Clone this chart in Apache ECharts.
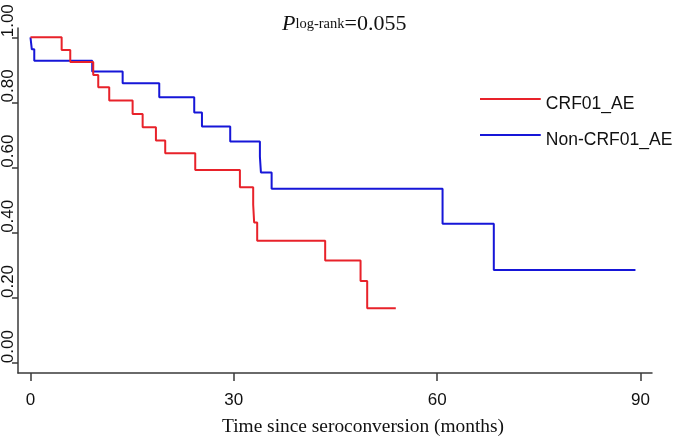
<!DOCTYPE html>
<html>
<head>
<meta charset="utf-8">
<script src="https://cdn.jsdelivr.net/npm/echarts@6/dist/echarts.min.js"></script>
<style>html,body{margin:0;padding:0;background:#fff}#c{width:675px;height:439px}</style>
</head>
<body>
<div id="c"></div>
<script>
// Kaplan-Meier estimates (time in months, survival proportion)
var seriesNames = ['CRF01_AE', 'Non-CRF01_AE'];
var redTimes = [0, 4.6, 5.87, 9.26, 10.0, 11.62, 15.07, 16.55, 18.51, 19.88, 24.31, 30.9, 32.86, 33.0, 33.45, 43.48, 48.7, 49.68, 53.9];
var redSurv  = [1.0, 0.961, 0.924, 0.884, 0.847, 0.806, 0.765, 0.724, 0.683, 0.644, 0.593, 0.540, 0.486, 0.432, 0.376, 0.315, 0.252, 0.169, 0.169];
var blueTimes = [0, 0.2, 0.56, 9.11, 13.6, 19.0, 24.16, 25.3, 29.47, 33.85, 34.0, 35.58, 60.8, 68.36, 89.26];
var blueSurv  = [1.0, 0.963, 0.928, 0.895, 0.859, 0.816, 0.769, 0.726, 0.680, 0.634, 0.585, 0.535, 0.428, 0.286, 0.286];
var xTicks = [0, 30, 60, 90];
var yTicks = [0, 0.2, 0.4, 0.6, 0.8, 1.0];
var pText = 'log-rank';
var pValue = '=0.055';
var xTitle = 'Time since seroconversion (months)';

function pairs(t, s) { return t.map(function (v, i) { return [v, s[i]]; }); }

var axisColor = '#3a3a3a';
var legendIcon = 'path://M0,0H61V2H0Z M0,12H0.05V12.05H0Z';
function legendFor(name, top) {
  return {
    data: [name], orient: 'vertical', left: 480, top: top, padding: 0,
    icon: legendIcon, itemWidth: 61, itemHeight: 12,
    textStyle: {fontFamily: 'Liberation Sans', fontSize: 17.5, color: '#111'}
  };
}
var chart = echarts.init(document.getElementById('c'), null, {renderer: 'canvas'});
chart.setOption({
  animation: false,
  backgroundColor: '#ffffff',
  title: [{
    text: '{p|P}{s|' + pText + '}{n|' + pValue + '}',
    left: 282, top: 13, padding: 0,
    textStyle: {
      fontWeight: 'normal',
      rich: {
        p: {fontFamily: 'Liberation Serif', fontStyle: 'italic', fontWeight: 'normal', fontSize: 22, color: '#111'},
        s: {fontFamily: 'Liberation Serif', fontWeight: 'normal', fontSize: 14.5, color: '#111'},
        n: {fontFamily: 'Liberation Serif', fontWeight: 'normal', fontSize: 22, color: '#111'}
      }
    }
  }, {
    text: xTitle,
    left: 222, top: 417, padding: 0,
    textStyle: {fontFamily: 'Liberation Serif', fontSize: 19.4, fontWeight: 'normal', color: '#111'}
  }],
  legend: [legendFor(seriesNames[0], 95), legendFor(seriesNames[1], 131)],
  grid: {left: 18, top: 28, width: 634, height: 345, containLabel: false},
  xAxis: {
    type: 'value', min: -1.84, max: 91.7,
    splitLine: {show: false},
    axisLine: {show: true, onZero: false, lineStyle: {color: axisColor, width: 1.5}},
    axisTick: {show: true, length: 8, customValues: xTicks, lineStyle: {color: axisColor, width: 1.5}},
    axisLabel: {customValues: xTicks, margin: 19, fontFamily: 'Liberation Sans', fontSize: 17, color: '#111'}
  },
  yAxis: {
    type: 'value', min: -0.03, max: 1.0285,
    splitLine: {show: false},
    axisLine: {show: true, onZero: false, lineStyle: {color: axisColor, width: 1.5}},
    axisTick: {show: true, length: 6, customValues: yTicks, lineStyle: {color: axisColor, width: 1.5}},
    axisLabel: {
      customValues: yTicks, rotate: 90, align: 'left', verticalAlign: 'bottom', margin: 1,
      fontFamily: 'Liberation Sans', fontSize: 17, color: '#111',
      formatter: function (v) { return v.toFixed(2); }
    }
  },
  series: [{
    name: seriesNames[0], type: 'line', step: 'end', showSymbol: false, symbol: 'none',
    data: pairs(redTimes, redSurv),
    lineStyle: {color: '#e8222a', width: 2}, itemStyle: {color: '#e8222a'}, z: 3
  }, {
    name: seriesNames[1], type: 'line', step: 'end', showSymbol: false, symbol: 'none',
    data: pairs(blueTimes, blueSurv),
    lineStyle: {color: '#1616d8', width: 2}, itemStyle: {color: '#1616d8'}, z: 2
  }]
});
</script>
</body>
</html>
